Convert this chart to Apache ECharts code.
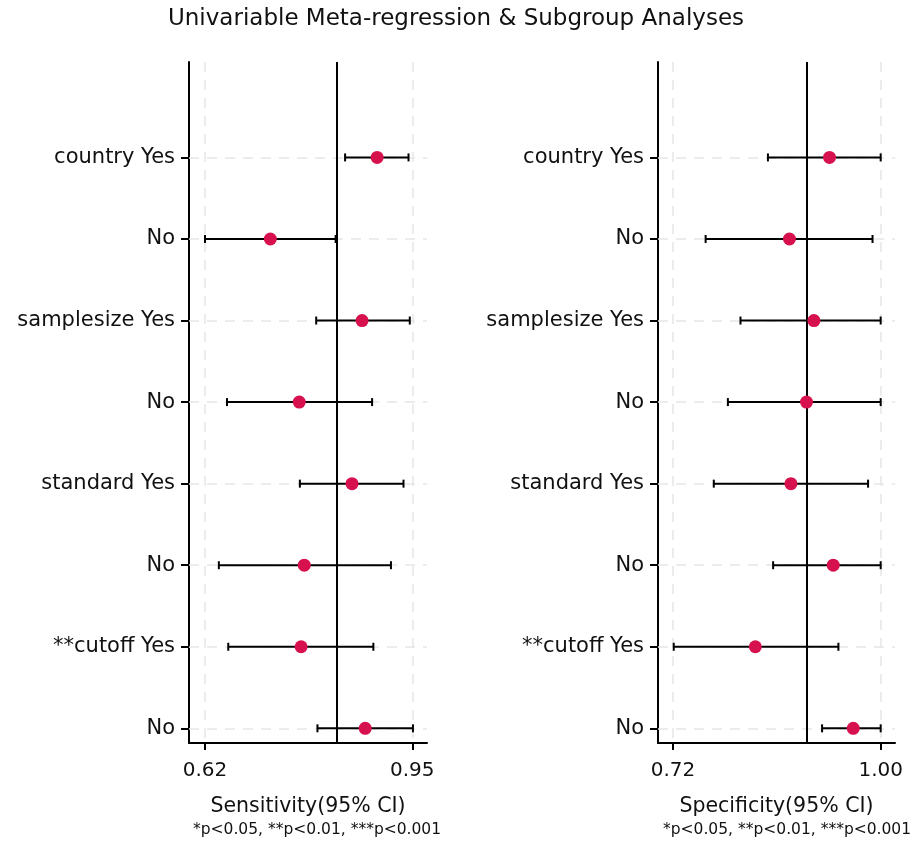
<!DOCTYPE html>
<html>
<head>
<meta charset="utf-8">
<script src="https://cdn.jsdelivr.net/npm/echarts@6/dist/echarts.min.js"></script>
<style>
  html, body { margin: 0; padding: 0; background: #fff; }
  #chart { width: 912px; height: 847px; }
</style>
</head>
<body>
<div id="chart"></div>
<script>
// Subgroup labels, top to bottom
const categories = ['country Yes', 'No', 'samplesize Yes', 'No', 'standard Yes', 'No', '**cutoff Yes', 'No'];
const rowPos = [1, 2, 3, 4, 5, 6, 7, 8];

// Sensitivity estimates with 95% CI
const sensEst  = [0.894, 0.724, 0.870, 0.770, 0.854, 0.778, 0.773, 0.875];
const sensLow  = [0.843, 0.620, 0.797, 0.655, 0.771, 0.642, 0.657, 0.799];
const sensHigh = [0.944, 0.828, 0.946, 0.886, 0.936, 0.916, 0.888, 0.951];
const sensPooled = 0.826;
const sensTicks = [0.62, 0.95];

// Specificity estimates with 95% CI
const specEst  = [0.931, 0.877, 0.910, 0.900, 0.879, 0.936, 0.831, 0.963];
const specLow  = [0.848, 0.764, 0.811, 0.794, 0.775, 0.855, 0.721, 0.921];
const specHigh = [1.000, 0.989, 1.000, 1.000, 0.983, 1.000, 0.943, 1.000];
const specPooled = 0.904;
const specTicks = [0.72, 1.00];

const FONT = 'DejaVu Sans';
const POINT_COLOR = '#d7104e';
const GRID_COLOR = '#e6e6e6';

const chart = echarts.init(document.getElementById('chart'), null, { renderer: 'canvas' });

function errorBarItem(params, api) {
  const y = api.value(2);
  const a = api.coord([api.value(0), y]);
  const b = api.coord([api.value(1), y]);
  const h = 4;
  const style = { stroke: '#000', lineWidth: 2 };
  return {
    type: 'group',
    children: [
      { type: 'line', shape: { x1: a[0], y1: a[1], x2: b[0], y2: b[1] }, style },
      { type: 'line', shape: { x1: a[0], y1: a[1] - h, x2: a[0], y2: a[1] + h }, style },
      { type: 'line', shape: { x1: b[0], y1: b[1] - h, x2: b[0], y2: b[1] + h }, style }
    ]
  };
}

function xAxisFor(idx, min, max, ticks, name) {
  return {
    gridIndex: idx, type: 'value', min, max, position: 'bottom',
    name, nameLocation: 'middle', nameGap: 53,
    nameTextStyle: { fontFamily: FONT, fontSize: 20.5, color: '#111' },
    axisLine: { show: true, onZero: false, lineStyle: { color: '#000', width: 2 } },
    axisTick: { show: true, customValues: ticks, length: 7, lineStyle: { color: '#000', width: 2 } },
    axisLabel: { customValues: ticks, margin: 18, fontFamily: FONT, fontSize: 20, color: '#111',
                 formatter: v => v.toFixed(2) },
    splitLine: { show: false }
  };
}

function yAxisFor(idx) {
  return {
    gridIndex: idx, type: 'value', inverse: true, min: -0.17, max: 8.18,
    axisLine: { show: true, onZero: false, lineStyle: { color: '#000', width: 2 } },
    axisTick: { show: true, customValues: rowPos, length: 8, lineStyle: { color: '#000', width: 2 } },
    axisLabel: { customValues: rowPos, margin: 14, fontFamily: FONT, fontSize: 21, color: '#111',
                 formatter: v => categories[Math.round(v) - 1] },
    splitLine: { show: false }
  };
}

function gridLines(ticks) {
  const data = rowPos.map(v => ({ yAxis: v })).concat(ticks.map(v => ({ xAxis: v })));
  return {
    silent: true, z: 1, symbol: ['none', 'none'], label: { show: false },
    lineStyle: { color: GRID_COLOR, width: 1.5, type: [10, 8] },
    emphasis: { disabled: true },
    data
  };
}

function panelSeries(idx, est, low, high, pooled, ticks) {
  return [
    {
      type: 'custom', xAxisIndex: idx, yAxisIndex: idx, z: 10,
      renderItem: errorBarItem,
      data: rowPos.map((y, i) => [low[i], high[i], y]),
      encode: { x: [0, 1], y: 2 },
      markLine: gridLines(ticks)
    },
    {
      type: 'scatter', xAxisIndex: idx, yAxisIndex: idx, z: 12,
      symbol: 'circle', symbolSize: 13,
      itemStyle: { color: POINT_COLOR, opacity: 1 },
      data: rowPos.map((y, i) => [est[i], y]),
      markLine: {
        silent: true, z: 3, symbol: ['none', 'none'], label: { show: false },
        lineStyle: { color: '#000', width: 2, type: 'solid' },
        emphasis: { disabled: true },
        data: [{ xAxis: pooled }]
      }
    }
  ];
}

const noteStyle = { fontFamily: FONT, fontSize: 15.5, fontWeight: 'normal', color: '#111' };

const option = {
  animation: false,
  backgroundColor: '#fff',
  title: [
    { text: 'Univariable Meta-regression & Subgroup Analyses', left: 'center', top: 8, padding: 0,
      textStyle: { fontFamily: FONT, fontSize: 23, fontWeight: 'normal', color: '#111' } },
    { text: '*p<0.05, **p<0.01, ***p<0.001', left: 193, top: 822, padding: 0, textStyle: noteStyle },
    { text: '*p<0.05, **p<0.01, ***p<0.001', left: 663, top: 822, padding: 0, textStyle: noteStyle }
  ],
  grid: [
    { left: 189, right: 485, top: 62, bottom: 104, containLabel: false },
    { left: 658, right: 17, top: 62, bottom: 104, containLabel: false }
  ],
  xAxis: [
    xAxisFor(0, 0.5945, 0.9734, sensTicks, 'Sensitivity(95% CI)'),
    xAxisFor(1, 0.6998, 1.0193, specTicks, 'Specificity(95% CI)')
  ],
  yAxis: [yAxisFor(0), yAxisFor(1)],
  series: [
    ...panelSeries(0, sensEst, sensLow, sensHigh, sensPooled, sensTicks),
    ...panelSeries(1, specEst, specLow, specHigh, specPooled, specTicks)
  ]
};

chart.setOption(option);
</script>
</body>
</html>
